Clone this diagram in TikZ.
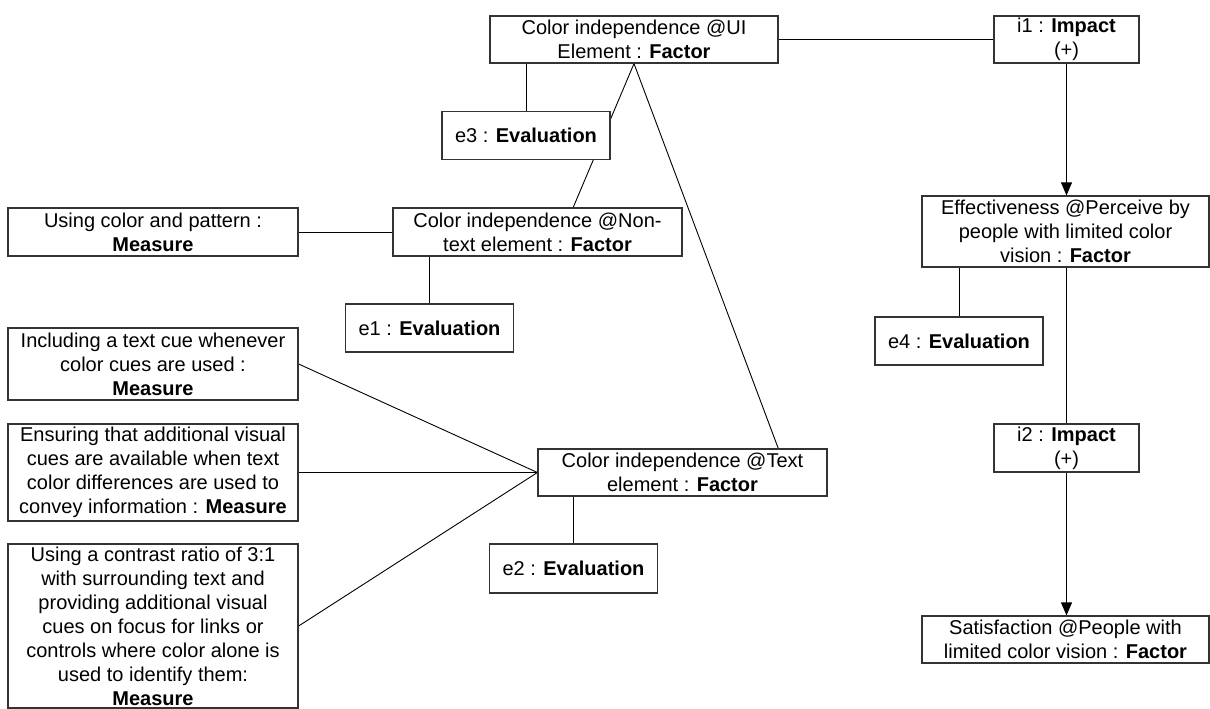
\documentclass[tikz,border=0pt]{standalone}
\usepackage{fontspec}
\setmainfont{Liberation Sans}
\usetikzlibrary{arrows.meta,backgrounds,calc}

\begin{document}
\begin{tikzpicture}[x=1pt, y=1pt,
    box/.style={draw=black!80, line width=1.2pt, fill=white, align=center, inner sep=0pt,
        font=\fontsize{20}{24}\selectfont},
    factor/.style={box, minimum width=289pt, minimum height=47pt},
    measure/.style={box, minimum width=290pt},
    evaluation/.style={box, minimum width=168pt, minimum height=48pt},
    impact/.style={box, minimum width=145pt, minimum height=47pt},
    link/.style={draw=black, line width=0.9pt},
    impacts/.style={link, -{Triangle[length=13pt, width=11pt]}}]
    \useasboundingbox (0,0) rectangle (1210,-709);

    % factors and impacts
    \node[factor, minimum width=288pt] (uiel) at (634,-39.5) {Color independence @UI\\Element : \textbf{Factor}};
    \node[impact] (i1) at (1066.5,-39.5) {i1 : \textbf{Impact}\\(+)};
    \node[factor, minimum height=48pt] (nontext) at (537.5,-232) {Color independence @Non-\\text element : \textbf{Factor}};
    \node[factor] (textel) at (682.5,-472.5) {Color independence @Text\\element : \textbf{Factor}};
    \node[factor, minimum width=287pt, minimum height=71pt] (effect) at (1065.5,-231.5) {Effectiveness @Perceive by\\people with limited color\\vision : \textbf{Factor}};
    \node[impact, minimum height=48pt] (i2) at (1066.5,-448) {i2 : \textbf{Impact}\\(+)};
    \node[factor, minimum width=287pt] (satisf) at (1065.5,-639.5) {Satisfaction @People with\\limited color vision : \textbf{Factor}};

    % evaluations
    \node[evaluation] (e3) at (526,-135.5) {e3 : \textbf{Evaluation}};
    \node[evaluation] (e1) at (429.5,-328) {e1 : \textbf{Evaluation}};
    \node[evaluation, minimum height=49pt] (e2) at (573.5,-568.5) {e2 : \textbf{Evaluation}};
    \node[evaluation] (e4) at (959,-341) {e4 : \textbf{Evaluation}};

    % measures
    \node[measure, minimum height=48pt] (pattern) at (153,-232) {Using color and pattern :\\\textbf{Measure}};
    \node[measure, minimum height=72pt] (textcue) at (153,-364) {Including a text cue whenever\\color cues are used :\\\textbf{Measure}};
    \node[measure, minimum height=97pt] (visualcue) at (153,-472.5) {Ensuring that additional visual\\cues are available when text\\color differences are used to\\convey information : \textbf{Measure}};
    \node[measure, minimum height=164pt] (contrast) at (153,-626) {Using a contrast ratio of 3:1\\with surrounding text and\\providing additional visual\\cues on focus for links or\\controls where color alone is\\used to identify them:\\\textbf{Measure}};

    \begin{scope}[on background layer]
        \draw[link] (uiel) -- (i1);
        \draw[link] (e3.north) -- (e3.north |- uiel.south);
        \draw[link] (uiel.south) -- ($(nontext.north west)!0.623!(nontext.north east)$);
        \draw[link] (uiel.south) -- ($(textel.north west)!0.83!(textel.north east)$);
        \draw[link] (pattern) -- (nontext);
        \draw[link] (e1.north) -- (e1.north |- nontext.south);
        \draw[link] (textcue.east) -- (textel.west);
        \draw[link] (visualcue.east) -- (textel.west);
        \draw[link] (contrast.east) -- (textel.west);
        \draw[link] (e2.north) -- (e2.north |- textel.south);
        \draw[link] (e4.north) -- (e4.north |- effect.south);
        \draw[link] (i2.north) -- (i2.north |- effect.south);
        \draw[impacts] (i1.south) -- (i1.south |- effect.north);
        \draw[impacts] (i2.south) -- (i2.south |- satisf.north);
    \end{scope}
\end{tikzpicture}
\end{document}
